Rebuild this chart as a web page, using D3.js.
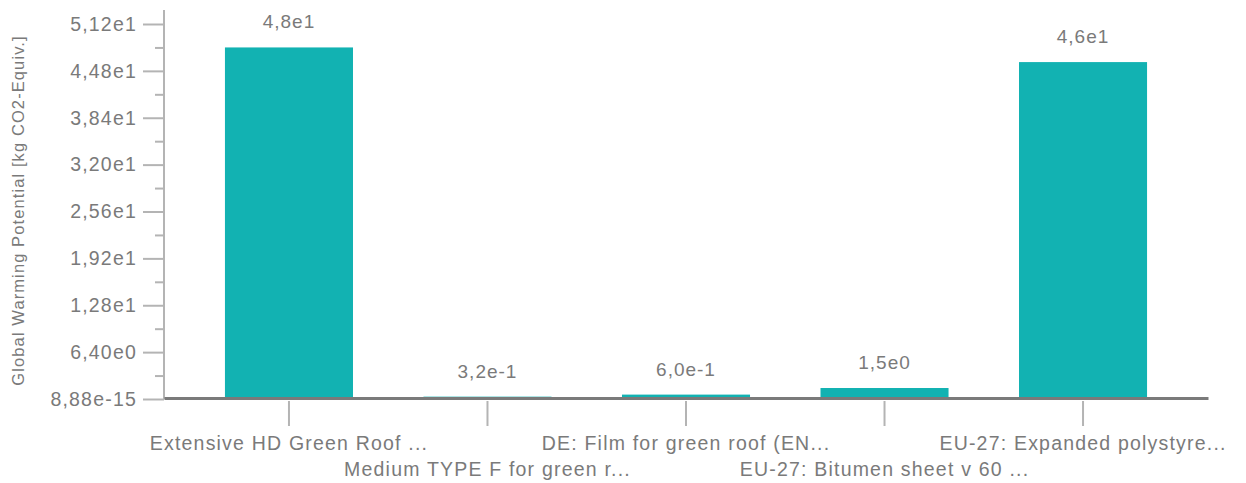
<!DOCTYPE html>
<html>
<head>
<meta charset="utf-8">
<script src="https://cdn.jsdelivr.net/npm/d3@7"></script>
<style>
  body { margin: 0; background: #fff; }
  svg text { font-family: "Liberation Sans", Arial, sans-serif; fill: #7a7a7a; letter-spacing: 1px; }
</style>
</head>
<body>
<div id="chart"></div>
<script>
// chart data
var categories = [
    'Extensive HD Green Roof ...',
    'Medium TYPE F for green r...',
    'DE: Film for green roof (EN...',
    'EU-27: Bitumen sheet v 60 ...',
    'EU-27: Expanded polystyre...'
];
var values = [48, 0.32, 0.60, 1.5, 46];
var valueLabels = ['4,8e1', '3,2e-1', '6,0e-1', '1,5e0', '4,6e1'];
var yTicks = [0, 6.4, 12.8, 19.2, 25.6, 32.0, 38.4, 44.8, 51.2];
var yTickLabels = ['8,88e-15', '6,40e0', '1,28e1', '1,92e1', '2,56e1', '3,20e1', '3,84e1', '4,48e1', '5,12e1'];
var yTitle = 'Global Warming Potential [kg CO2-Equiv.]';

var width = 1246, height = 483;
var margin = {top: 24, right: 38, bottom: 84, left: 164};

var svg = d3.select('#chart').append('svg')
    .attr('width', width)
    .attr('height', height);

var x = d3.scaleBand()
    .domain(categories)
    .range([margin.left, width - margin.right])
    .paddingInner(0.355)
    .paddingOuter(0.307);

var y = d3.scaleLinear()
    .domain([0, d3.max(yTicks)])
    .range([height - margin.bottom, margin.top]);

// minor ticks sit halfway between the labelled ones
var minorTicks = d3.pairs(yTicks).map(p => (p[0] + p[1]) / 2);

// bars
svg.append('g').selectAll('rect')
    .data(values)
    .enter().append('rect')
    .attr('x', (d, i) => x(categories[i]))
    .attr('y', d => y(d))
    .attr('width', x.bandwidth())
    .attr('height', d => y(0) - y(d))
    .attr('fill', '#12b2b2');

// value labels
svg.append('g').selectAll('text')
    .data(values)
    .enter().append('text')
    .attr('x', (d, i) => x(categories[i]) + x.bandwidth() / 2)
    .attr('y', d => y(d) - 19)
    .attr('text-anchor', 'middle')
    .style('font-size', '19px')
    .text((d, i) => valueLabels[i]);

// y axis
var yAxis = svg.append('g')
    .attr('transform', 'translate(' + margin.left + ',0)')
    .call(d3.axisLeft(y)
        .tickValues(yTicks)
        .tickSize(21)
        .tickPadding(6)
        .tickFormat((d, i) => yTickLabels[i]));
yAxis.select('.domain').remove();
yAxis.selectAll('.tick line').attr('stroke', '#b4b4b4').attr('stroke-width', 2);
yAxis.selectAll('.tick text')
    .style('font-size', '19.5px')
    .style('letter-spacing', '1.2px')
    .attr('fill', '#7a7a7a');

var yMinor = svg.append('g')
    .attr('transform', 'translate(' + margin.left + ',0)')
    .call(d3.axisLeft(y).tickValues(minorTicks).tickSize(9).tickFormat(''));
yMinor.select('.domain').remove();
yMinor.selectAll('.tick line').attr('stroke', '#b4b4b4').attr('stroke-width', 2);

svg.append('line')
    .attr('x1', margin.left).attr('x2', margin.left)
    .attr('y1', y(0)).attr('y2', margin.top - 14)
    .attr('stroke', '#b4b4b4')
    .attr('stroke-width', 2);

// x axis
var xAxis = svg.append('g')
    .attr('transform', 'translate(0,' + (y(0) - 1) + ')')
    .call(d3.axisBottom(x).tickSize(28).tickSizeOuter(0).tickPadding(0));
xAxis.select('.domain')
    .attr('stroke', '#7a7a7a')
    .attr('stroke-width', 3);
xAxis.selectAll('.tick line').attr('stroke', '#b4b4b4').attr('stroke-width', 2)
    .attr('y1', 3);
xAxis.selectAll('.tick text')
    .style('font-size', '19.5px')
    .style('letter-spacing', '1.2px')
    .attr('fill', '#7a7a7a')
    .attr('dy', null)
    .attr('y', (d, i) => i % 2 === 0 ? 52 : 78);

// y title
svg.append('text')
    .attr('transform', 'translate(24,' + ((y(0) + margin.top - 14) / 2 + 6) + ') rotate(-90)')
    .attr('text-anchor', 'middle')
    .style('font-size', '16.5px')
    .style('letter-spacing', '1.1px')
    .text(yTitle);
</script>
</body>
</html>
